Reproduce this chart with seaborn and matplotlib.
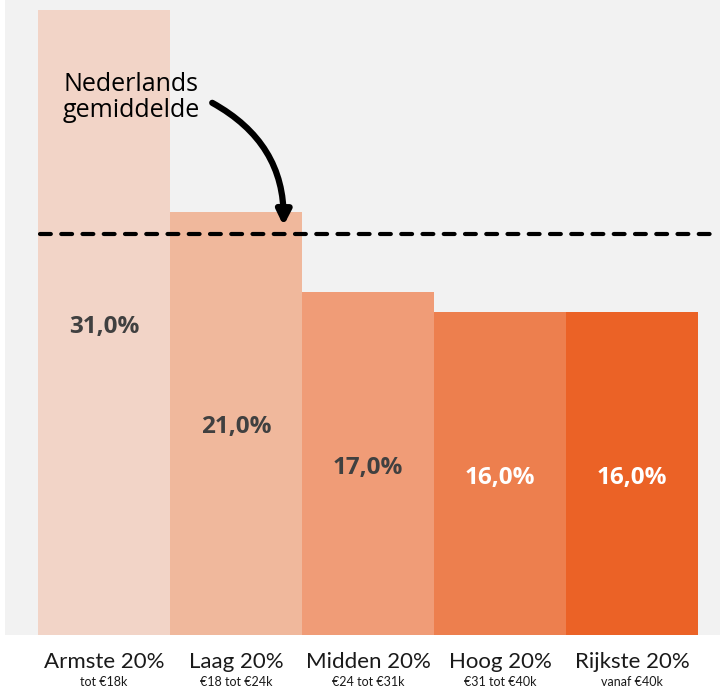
import matplotlib
matplotlib.use("Agg")
import matplotlib.pyplot as plt
import matplotlib.transforms as mtransforms
import pandas as pd
import seaborn as sns

categories = ["Armste 20%", "Laag 20%", "Midden 20%", "Hoog 20%", "Rijkste 20%"]
sublabels = ["tot €18k", "€18 tot €24k", "€24 tot €31k", "€31 tot €40k", "vanaf €40k"]
values = [31.0, 21.0, 17.0, 16.0, 16.0]
value_labels = ["31,0%", "21,0%", "17,0%", "16,0%", "16,0%"]
national_average = 19.9
bar_colors = ["#f2d4c7", "#f0b89c", "#f09c77", "#ed7f4e", "#eb6226"]
label_colors = ["#404040", "#404040", "#404040", "white", "white"]

sns.set_theme(style="white")
plt.rcParams["font.family"] = ["Open Sans", "DejaVu Sans"]

df = pd.DataFrame({"groep": categories, "aandeel": values})

fig = plt.figure(figsize=(7.2, 6.89), dpi=100)
ax = fig.add_axes([5 / 720, 54 / 689, 715 / 720, 635 / 689])
ax.set_facecolor("#f2f2f2")

sns.barplot(data=df, x="groep", y="aandeel", hue="groep", palette=bar_colors,
            saturation=1, width=1.0, legend=False, ax=ax, linewidth=0)

ax.set_xlim(-0.75, 4.667)
ax.set_ylim(0, 31.5)
for s in ax.spines.values():
    s.set_visible(False)
ax.set_yticks([])
ax.set_xlabel("")
ax.set_ylabel("")
ax.tick_params(axis="x", length=0, pad=12)
ax.set_xticks(range(len(categories)))
ax.set_xticklabels(categories, fontsize=16, color="#1a1a1a", family=["Lato", "DejaVu Sans"])

trans = mtransforms.blended_transform_factory(ax.transData, ax.transAxes)
for i, sub in enumerate(sublabels):
    ax.text(i, -47 / 635, sub, transform=trans, ha="center", va="center",
            fontsize=9, color="#1a1a1a", family=["Lato", "DejaVu Sans"])

for i, (v, lab) in enumerate(zip(values, value_labels)):
    ax.text(i, v / 2 - 0.2, lab, ha="center", va="center", fontsize=17.5,
            fontweight="bold", color=label_colors[i])

# dashed national average line
x0 = (40 - 5) / 715
ax.axhline(national_average, xmin=x0, xmax=1, color="black", lw=3,
           linestyle=(0, (2.6, 2.5)), dash_capstyle="round")

fig.text(63 / 720, 1 - 72 / 689, "Nederlands\ngemiddelde", ha="left", va="top",
         fontsize=18, color="black", linespacing=1.05)

ax.annotate("", xy=(1.36, 20.3), xytext=(0.82, 26.4),
            arrowprops=dict(arrowstyle="-|>,head_length=0.7,head_width=0.35",
                            connectionstyle="arc3,rad=-0.3",
                            color="black", lw=4.5, shrinkA=0, shrinkB=0))

fig.savefig("out.png", dpi=100)
